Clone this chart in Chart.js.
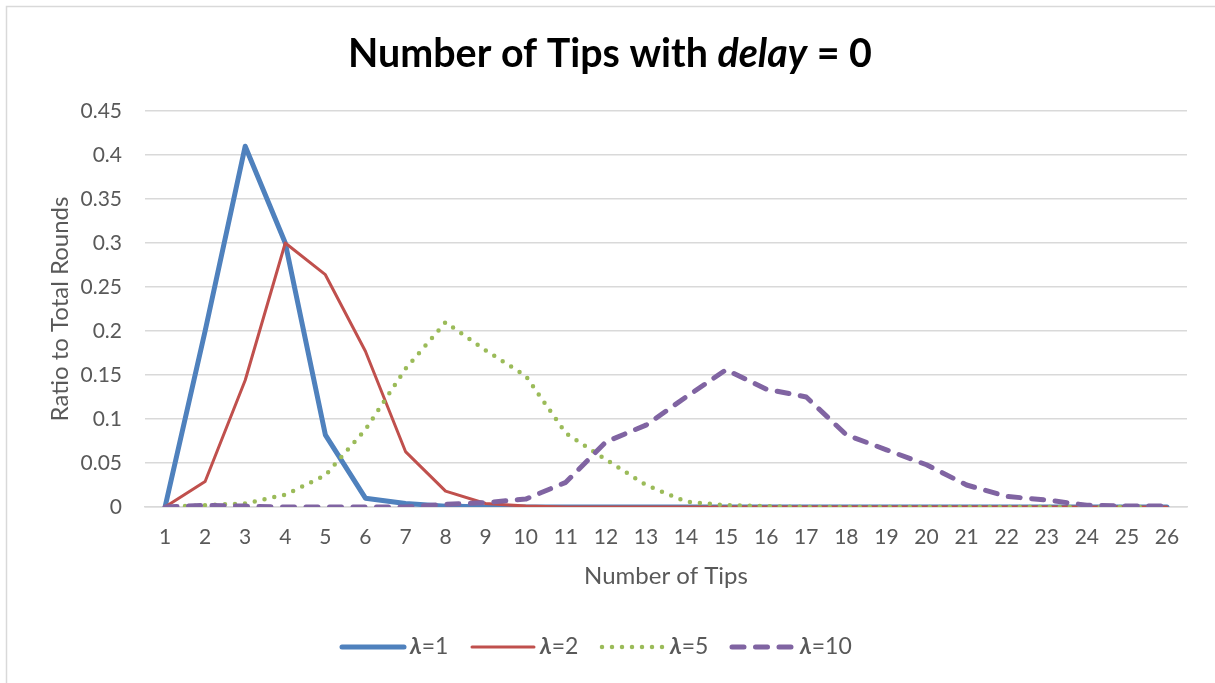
<!DOCTYPE html>
<html>
<head>
<meta charset="utf-8">
<script src="https://cdn.jsdelivr.net/npm/chart.js@4.4.1/dist/chart.umd.min.js"></script>
<style>
  html, body { margin: 0; padding: 0; background: #ffffff; }
  #wrap { width: 1215px; height: 683px; position: relative; }
</style>
</head>
<body>
<div id="wrap"><canvas id="tipsChart" width="1215" height="683"></canvas></div>
<script>
// Number of tips observed per round (x categories)
const tipCounts = ['1','2','3','4','5','6','7','8','9','10','11','12','13','14','15','16','17','18','19','20','21','22','23','24','25','26'];

// Ratio of rounds with each tip count, one array per arrival rate
const lambda1  = [0, 0.200, 0.410, 0.300, 0.082, 0.010, 0.004, 0.001, 0, 0, 0, 0, 0, 0, 0, 0, 0, 0, 0, 0, 0, 0, 0, 0, 0, 0];
const lambda2  = [0, 0.029, 0.144, 0.300, 0.264, 0.177, 0.063, 0.018, 0.004, 0.001, 0, 0, 0, 0, 0, 0, 0, 0, 0, 0, 0, 0, 0, 0, 0, 0];
const lambda5  = [0, 0.002, 0.004, 0.014, 0.036, 0.088, 0.157, 0.210, 0.178, 0.149, 0.084, 0.054, 0.025, 0.006, 0.002, 0.001, 0, 0, 0, 0, 0, 0, 0, 0, 0, 0];
const lambda10 = [0, 0.002, 0.001, 0, 0, 0, 0, 0.003, 0.005, 0.009, 0.028, 0.074, 0.093, 0.125, 0.156, 0.134, 0.125, 0.082, 0.065, 0.048, 0.025, 0.012, 0.008, 0.002, 0.001, 0.001];

// Y-axis tick labels
const yTickLabels = ['0', '0.05', '0.1', '0.15', '0.2', '0.25', '0.3', '0.35', '0.4', '0.45'];

// Series names (lambda value)
const seriesNames = ['1', '2', '5', '10'];

const FONT = 'Lato, "Noto Sans", "DejaVu Sans", sans-serif';
const TEXT = '#595959';
const GRID = '#D9D9D9';

const styles = [
  { color: '#4F81BD', width: 5,   dash: [] },
  { color: '#C0504D', width: 3,   dash: [] },
  { color: '#9BBB59', width: 4.5, dash: [0, 10] },
  { color: '#8064A2', width: 5,   dash: [12, 11.5] }
];
const seriesData = [lambda1, lambda2, lambda5, lambda10];

const datasets = seriesData.map((d, i) => ({
  label: 'λ=' + seriesNames[i],
  data: d,
  borderColor: styles[i].color,
  backgroundColor: styles[i].color,
  borderWidth: styles[i].width,
  borderDash: styles[i].dash,
  borderCapStyle: 'round',
  borderJoinStyle: 'round',
  pointRadius: 0,
  pointHoverRadius: 0,
  tension: 0,
  fill: false,
  order: 4 - i
}));

// Frame, mixed-style title and line legend
const decor = {
  id: 'decor',
  beforeDraw(chart) {
    const ctx = chart.ctx;
    ctx.save();
    ctx.fillStyle = '#ffffff';
    ctx.fillRect(0, 0, chart.width, chart.height);
    ctx.strokeStyle = GRID;
    ctx.lineWidth = 1.5;
    ctx.strokeRect(6.5, 6.5, chart.width + 10, chart.height + 10);
    ctx.restore();
  },
  afterDraw(chart) {
    const ctx = chart.ctx;
    ctx.save();
    // Title: sized to span 524px, centred at x=610
    const parts = [
      { t: 'Number of Tips with ', s: 'bold' },
      { t: 'delay', s: 'italic bold' },
      { t: ' = 0', s: 'bold' }
    ];
    const measure = (size) => parts.reduce((acc, p) => {
      ctx.font = p.s + ' ' + size + 'px ' + FONT;
      return acc + ctx.measureText(p.t).width;
    }, 0);
    const size = 30 * 524 / measure(30);
    let total = 0;
    parts.forEach(p => { p.f = p.s + ' ' + size + 'px ' + FONT; ctx.font = p.f; p.w = ctx.measureText(p.t).width; total += p.w; });
    let x = 610 - total / 2;
    ctx.fillStyle = '#000000';
    ctx.textBaseline = 'alphabetic';
    ctx.textAlign = 'left';
    parts.forEach(p => { ctx.font = p.f; ctx.fillText(p.t, x, 67); x += p.w; });

    // Legend
    const ly = 647;
    chart.data.datasets.forEach((ds, i) => {
      const lx = 340 + 130 * i;
      ctx.beginPath();
      ctx.strokeStyle = ds.borderColor;
      ctx.lineWidth = ds.borderWidth;
      ctx.lineCap = 'round';
      ctx.setLineDash(ds.borderDash);
      ctx.moveTo(lx + 2, ly);
      ctx.lineTo(lx + 64, ly);
      ctx.stroke();
      ctx.setLineDash([]);
      let tx = lx + 70;
      ctx.fillStyle = TEXT;
      ctx.textBaseline = 'middle';
      ctx.font = 'italic bold 23px ' + FONT;
      ctx.fillText('λ', tx, ly);
      tx += ctx.measureText('λ').width;
      ctx.font = '23px ' + FONT;
      ctx.fillText('=' + seriesNames[i], tx, ly);
    });
    ctx.restore();
  }
};

new Chart(document.getElementById('tipsChart'), {
  type: 'line',
  data: { labels: tipCounts, datasets: datasets },
  plugins: [decor],
  options: {
    responsive: false,
    animation: false,
    devicePixelRatio: 1,
    layout: { padding: { left: 0, right: 28, top: 111, bottom: 90 } },
    plugins: { legend: { display: false }, title: { display: false }, tooltip: { enabled: false } },
    scales: {
      x: {
        offset: true,
        grid: { display: false, drawTicks: false },
        border: { display: true, color: GRID, width: 1.5 },
        ticks: { color: TEXT, font: { family: FONT, size: 21 }, padding: 18, maxRotation: 0, autoSkip: false },
        title: { display: true, text: 'Number of Tips', color: TEXT, font: { family: FONT, size: 24 }, padding: { top: 0, bottom: 2 } },
        afterFit(scale) { scale.height = 86; }
      },
      y: {
        min: 0,
        max: 0.45,
        grid: { color: GRID, lineWidth: 1.5, drawTicks: false },
        border: { display: false },
        ticks: {
          stepSize: 0.05,
          color: TEXT,
          font: { family: FONT, size: 21 },
          padding: 23,
          callback: (v, i) => yTickLabels[i]
        },
        title: { display: true, text: 'Ratio to Total Rounds', color: TEXT, font: { family: FONT, size: 24 }, padding: { top: 46, bottom: 0 } },
        afterFit(scale) { scale.width = 145; }
      }
    }
  }
});
</script>
</body>
</html>
